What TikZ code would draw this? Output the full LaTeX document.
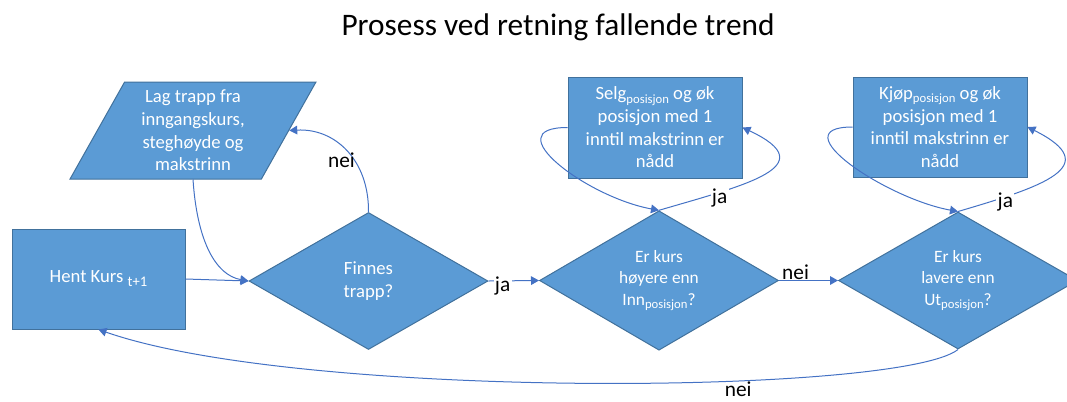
\documentclass[tikz,border=0pt]{standalone}
\usepackage{fontspec}
\setmainfont{Carlito}
\usetikzlibrary{shapes.geometric,arrows.meta}

\definecolor{boxblue}{HTML}{5B9BD5}
\definecolor{boxedge}{HTML}{41719C}
\definecolor{lineblue}{HTML}{4472C4}
\newcommand{\possub}{\raisebox{-0.35ex}{\fontsize{9.5}{10}\selectfont posisjon}}
\newcommand{\tsub}{\raisebox{-0.45ex}{\fontsize{11}{12}\selectfont t+1}}

\begin{document}
\begin{tikzpicture}[x=0.75pt,y=-0.75pt]
       \tikzstyle{every node}=[font=\fontsize{14}{17}\selectfont]
       \tikzstyle{block}=[draw=boxedge, fill=boxblue, text=white, line width=0.75pt, align=center, inner sep=0pt]
       \tikzstyle{flow}=[draw=lineblue, line width=0.75pt, -{Triangle[length=6pt,width=6.5pt]}]
       \tikzstyle{lbl}=[font=\fontsize{16}{19}\selectfont, fill=white, inner sep=1pt]
   \useasboundingbox (0,0) rectangle (1067,401);

% tittel
   \node[font=\fontsize{23.5}{28}\selectfont] (tittel) at (558,27) {Prosess ved retning fallende trend};

% start: hent kurs
   \node[block, rectangle, minimum width=129.75pt, minimum height=75pt] (hent) at (98.5,279) {Hent Kurs \tsub};

% lag trapp
   \node[block, trapezium, trapezium left angle=63, trapezium right angle=117,
         trapezium stretches=true, minimum width=184.5pt, minimum height=72.75pt]
      (lag) at (193,130.5) {Lag trapp fra\\inngangskurs,\\steghøyde og\\makstrinn};

% finnes trapp?
   \node[block, diamond, minimum width=179.25pt, minimum height=102.75pt] (finnes) at (368.5,281) {Finnes\\trapp?};
   \draw[flow] (hent.east) -- (finnes.west);
   \draw[flow] (lag.south) .. controls (197,240) and (215,275) .. (finnes.west);
   \draw[flow] (finnes.north) .. controls (369,160) and (335,128) .. node[lbl, pos=0.4, anchor=east, fill=none, xshift=2pt]{nei} (lag.right side);

% hoyere enn inngang?
   \node[block, diamond, font=\fontsize{13}{16}\selectfont, minimum width=179.25pt, minimum height=102.75pt]
      (hoyere) at (659,280.5) {Er kurs\\høyere enn\\Inn\possub?};
   \draw[flow] (finnes.east) -- node[lbl, pos=0.28, yshift=-4pt]{ja} (hoyere.west);

% selg
   \node[block, rectangle, minimum width=130.5pt, minimum height=75.75pt] (selg) at (655,127.5)
      {Selg\possub{} og øk\\posisjon med 1\\inntil makstrinn er\\nådd};
   \draw[flow] (selg.west) .. controls +(-73,0) and +(-72,-13) .. (hoyere.north);
   \draw[flow] (hoyere.north) .. controls +(85,-25) and +(83,39) .. node[lbl, pos=0.25, yshift=-4pt]{ja} (selg.east);

% lavere enn ut?
   \node[block, diamond, font=\fontsize{13}{16}\selectfont, minimum width=179.25pt, minimum height=102.75pt]
      (lavere) at (958,280.5) {Er kurs\\lavere enn\\Ut\possub?};
   \draw[flow] (hoyere.east) -- node[lbl, pos=0, anchor=base west, fill=none, inner sep=2pt, yshift=1pt]{nei} (lavere.west);

% kjop
   \node[block, rectangle, minimum width=130.5pt, minimum height=75pt] (kjop) at (940,127)
      {Kjøp\possub{} og øk\\posisjon med 1\\inntil makstrinn er\\nådd};
   \draw[flow] (kjop.west) .. controls +(-73,0) and +(-72,-13) .. (lavere.north);
   \draw[flow] (lavere.north) .. controls +(85,-25) and +(78,39) .. node[lbl, pos=0.2, yshift=-4pt]{ja} (kjop.east);

% tilbake til hent kurs
   \draw[flow] (lavere.south) .. controls (900,395) and (300,400) .. node[lbl, pos=0.35, anchor=north, fill=none, inner sep=0.5pt]{nei} (hent.south);

\end{tikzpicture}
\end{document}
